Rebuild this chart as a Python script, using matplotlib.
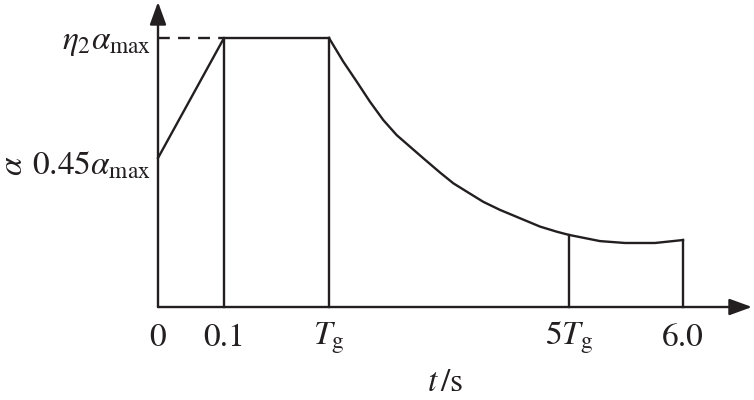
import matplotlib
matplotlib.use('Agg')
import matplotlib.pyplot as plt

plt.rcParams['font.family'] = 'STIXGeneral'
plt.rcParams['mathtext.fontset'] = 'stix'

# schematic positions along the period axis (not to scale)
tick_pos = [0.0, 0.66, 1.71, 4.11, 5.25]
tick_labels = ['0', '0.1', r'$T_{\rm g}$', r'$5T_{\rm g}$', '6.0']

# alpha levels, relative to eta2*alpha_max
a_top = 1.0
a_start = 0.554

# rising branch and plateau
rise_x = [0.0, 0.66, 1.71]
rise_y = [a_start, a_top, a_top]

# descending branch
curve_x = [1.71, 1.853, 1.987, 2.12, 2.253, 2.387, 2.52, 2.653, 2.82, 2.953, 3.087,
           3.253, 3.42, 3.62, 3.82, 3.987, 4.11, 4.42, 4.67, 4.97, 5.25]
curve_y = [1.0, 0.912, 0.838, 0.763, 0.695, 0.639, 0.596, 0.553, 0.500, 0.460, 0.429,
           0.391, 0.361, 0.330, 0.299, 0.280, 0.268, 0.245, 0.238, 0.238, 0.249]

ink = '#231f20'

fig = plt.figure(figsize=(7.54, 4.0), dpi=100)
ax = fig.add_axes([0, 0, 1, 1])
ax.set_xlim(-1.58, 5.96)
ax.set_ylim(-0.3457, 1.1413)
ax.axis('off')

lw = 1.7
ax.plot(rise_x, rise_y, color=ink, lw=lw)
ax.plot(curve_x, curve_y, color=ink, lw=lw, solid_joinstyle='round')

# vertical lines down to the axis
vert_y = [a_top, a_top, curve_y[curve_x.index(4.11)], curve_y[-1]]
for x, y in zip(tick_pos[1:], vert_y):
    ax.plot([x, x], [0, y], color=ink, lw=lw)

# dashed level line
ax.plot([0, tick_pos[1]], [a_top, a_top], color=ink, lw=lw, ls=(0, (5, 3.5)))

# axes with arrows
arr = dict(arrowstyle='-|>,head_length=0.55,head_width=0.2', color=ink, lw=lw,
           mutation_scale=25, shrinkA=0, shrinkB=0)
ax.annotate('', xy=(5.94, 0), xytext=(0, 0), arrowprops=arr)
ax.annotate('', xy=(0, 1.134), xytext=(0, 0), arrowprops=arr)

fs = 24
for x, lab in zip(tick_pos, tick_labels):
    ax.text(x, -0.115, lab, ha='center', va='center', fontsize=fs, color=ink)

ax.text(-0.07, a_top - 0.02, r'$\eta_2\alpha_{\rm max}$', ha='right', va='center', fontsize=fs, color=ink)
ax.text(-0.07, a_start - 0.03, r'$0.45\alpha_{\rm max}$', ha='right', va='center', fontsize=fs, color=ink)
ax.text(-1.44, a_start - 0.03, r'$\alpha$', ha='center', va='center', fontsize=fs, rotation=90, color=ink)
ax.text(2.87, -0.285, r'$t\,$/s', ha='center', va='center', fontsize=fs, color=ink)

fig.savefig('out.png', dpi=100)
